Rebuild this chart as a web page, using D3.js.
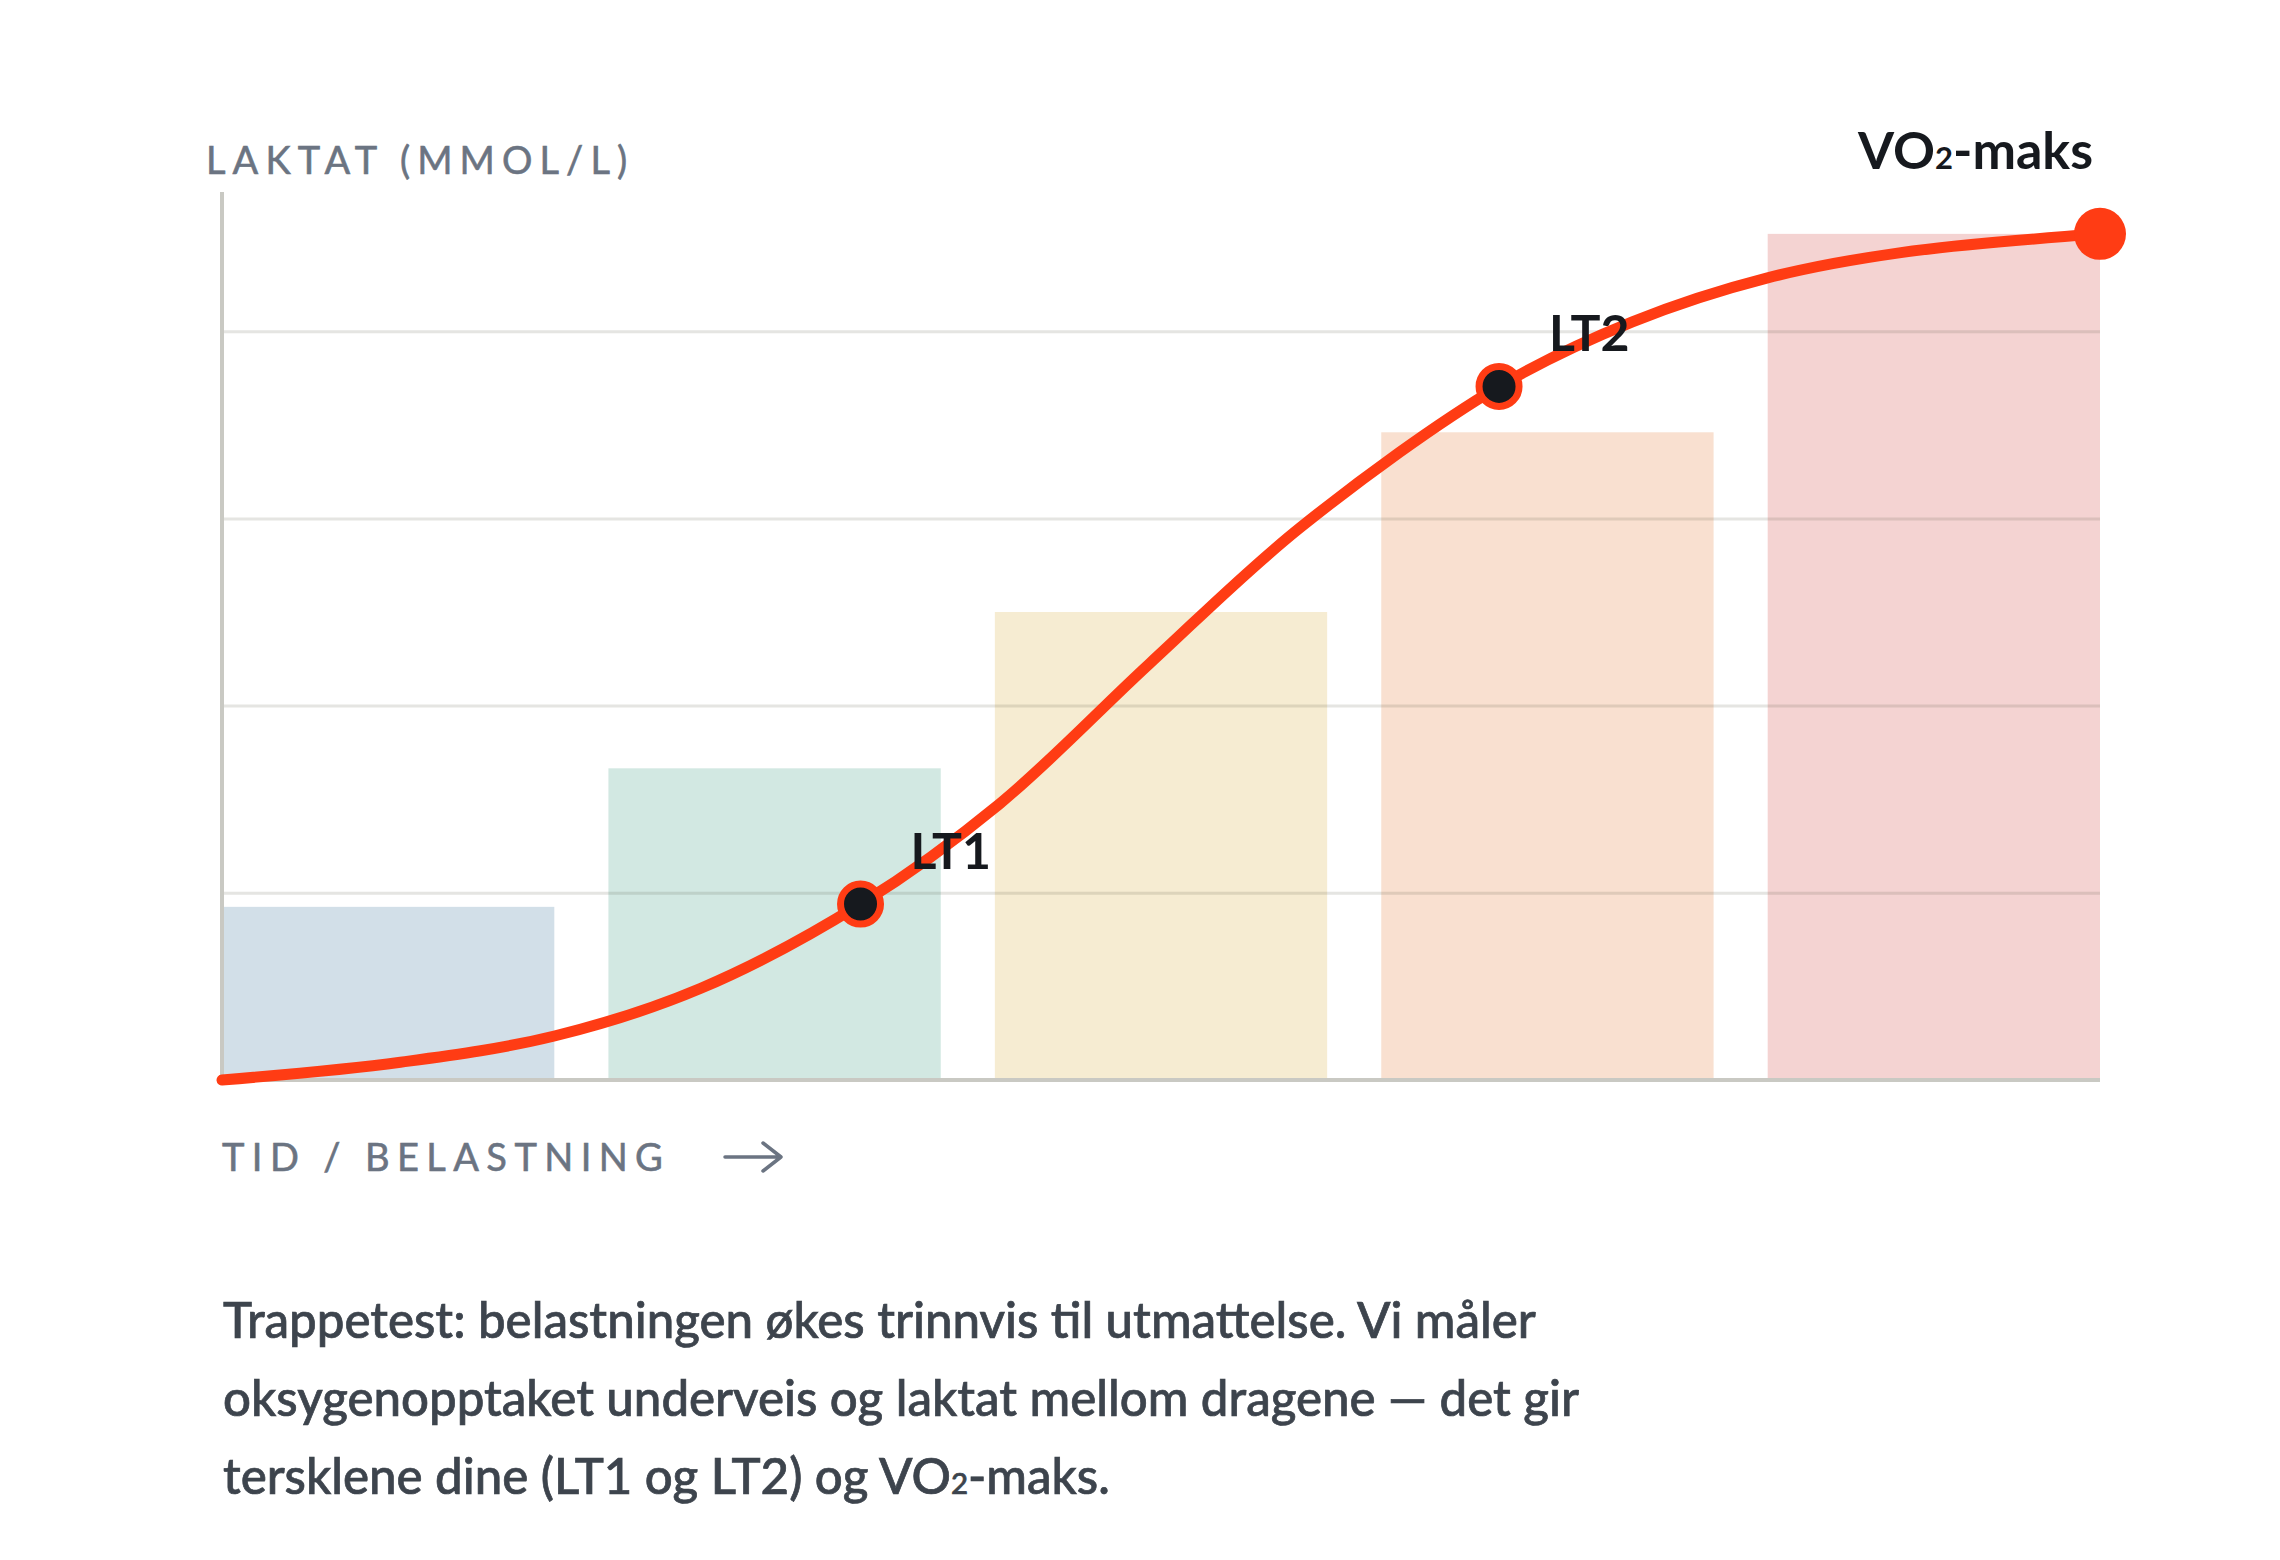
<!DOCTYPE html>
<html>
<head>
<meta charset="utf-8" />
<title>Trappetest</title>
<script src="https://cdn.jsdelivr.net/npm/d3@7"></script>
<style>
  body { margin: 0; background: #fff; }
  svg { display: block; }
  text { font-family: Lato, "Noto Sans", sans-serif; }
</style>
</head>
<body>
<svg id="chart" width="2280" height="1560"></svg>
<script>
// stages of the step test (one bar each) and their lactate level
const stages = ["1", "2", "3", "4", "5"];
const stageLactate = [1.85, 3.33, 5.0, 6.92, 9.04];
const stageColors = ["#d2dfe8", "#d2e8e2", "#f6ecd2", "#f9e0d0", "#f4d3d2"];

// lactate curve, load in % of max vs lactate
const curveLoad    = [0, 9.5, 17.7, 25.5, 34, 41.4, 49.4, 57.4, 68, 75.1, 82.3, 89.4, 100];
const curveLactate = [0, 0.19, 0.47, 0.98, 1.88, 2.95, 4.45, 5.9, 7.41, 8.1, 8.57, 8.84, 9.04];

// threshold markers
const markerNames = ["LT1", "LT2"];
const markerLoad = [34, 68];
const markerLactate = [1.88, 7.41];
const vo2Load = 100, vo2Lactate = 9.04;

const gridTicks = [2, 4, 6, 8];

const yLabel = "LAKTAT (MMOL/L)";
const xLabel = "TID / BELASTNING";
const captionLines = [
  "Trappetest: belastningen økes trinnvis til utmattelse. Vi måler",
  "oksygenopptaket underveis og laktat mellom dragene — det gir",
  "tersklene dine (LT1 og LT2) og VO"
];

const svg = d3.select("#chart");
const plotLeft = 222, plotRight = 2100, plotBottom = 1080, plotTop = 144;
const red = "#ff3c14", ink = "#16191e", muted = "#6b7482";

const x = d3.scaleBand().domain(stages).range([plotLeft, plotRight]).paddingInner(0.14).paddingOuter(0);
const xLoad = d3.scaleLinear().domain([0, 100]).range([plotLeft, plotRight]);
const y = d3.scaleLinear().domain([0, 10]).range([plotBottom, plotTop]);

// bars
svg.append("g")
  .selectAll("rect")
  .data(stages)
  .join("rect")
    .attr("x", d => x(d))
    .attr("width", x.bandwidth())
    .attr("y", (d, i) => y(stageLactate[i]))
    .attr("height", (d, i) => y(0) - y(stageLactate[i]))
    .attr("fill", (d, i) => stageColors[i]);

// grid lines, drawn on top so they show through the bars
const grid = svg.append("g")
  .attr("transform", `translate(${plotLeft},0)`)
  .call(d3.axisLeft(y).tickValues(gridTicks).tickSize(-(plotRight - plotLeft)).tickFormat(""));
grid.select(".domain").remove();
grid.selectAll(".tick line").attr("stroke", "rgba(70,70,50,0.14)").attr("stroke-width", 3);

// axes
svg.append("line")
  .attr("x1", plotLeft).attr("x2", plotLeft).attr("y1", 192).attr("y2", plotBottom + 2)
  .attr("stroke", "#c9c9c3").attr("stroke-width", 4);
svg.append("line")
  .attr("x1", plotLeft).attr("x2", plotRight).attr("y1", plotBottom).attr("y2", plotBottom)
  .attr("stroke", "#c9c9c3").attr("stroke-width", 4);

// lactate curve
const line = d3.line()
  .x((d, i) => xLoad(curveLoad[i]))
  .y((d, i) => y(curveLactate[i]))
  .curve(d3.curveCatmullRom.alpha(0.5));
svg.append("path")
  .attr("d", line(curveLoad))
  .attr("fill", "none")
  .attr("stroke", red)
  .attr("stroke-width", 11)
  .attr("stroke-linecap", "round");

// threshold markers
const mk = svg.append("g").selectAll("g").data(markerNames).join("g");
mk.append("circle")
  .attr("cx", (d, i) => xLoad(markerLoad[i]))
  .attr("cy", (d, i) => y(markerLactate[i]))
  .attr("r", 20)
  .attr("fill", ink)
  .attr("stroke", red)
  .attr("stroke-width", 7);
mk.append("text")
  .attr("x", (d, i) => xLoad(markerLoad[i]) + 50)
  .attr("y", (d, i) => y(markerLactate[i]) - 35)
  .attr("font-size", 50)
  .attr("font-weight", 700)
  .attr("fill", ink)
  .text(d => d);

// VO2max end point
svg.append("circle")
  .attr("cx", xLoad(vo2Load)).attr("cy", y(vo2Lactate))
  .attr("r", 26).attr("fill", red);
const vo2 = svg.append("text")
  .attr("x", xLoad(vo2Load) - 7)
  .attr("y", 169)
  .attr("text-anchor", "end")
  .attr("font-size", 52)
  .attr("font-weight", 700)
  .attr("fill", ink);
vo2.append("tspan").text("VO");
vo2.append("tspan").attr("font-size", 31).text("2");
vo2.append("tspan").text("-maks");

// axis titles
svg.append("text")
  .attr("x", 206).attr("y", 174)
  .attr("font-size", 38)
  .attr("letter-spacing", "7.1px")
  .attr("fill", muted)
  .attr("stroke", muted).attr("stroke-width", 0.6)
  .text(yLabel);
svg.append("text")
  .attr("x", plotLeft).attr("y", 1171)
  .attr("font-size", 38)
  .attr("letter-spacing", "7.4px")
  .attr("fill", muted)
  .attr("stroke", muted).attr("stroke-width", 0.6)
  .text(xLabel);
svg.append("path")
  .attr("d", "M725,1157 H781 M763,1143 L781,1157 L763,1171")
  .attr("fill", "none")
  .attr("stroke", muted)
  .attr("stroke-width", 3.5)
  .attr("stroke-linecap", "round")
  .attr("stroke-linejoin", "round");

// caption
const cap = svg.append("g").attr("fill", "#3d444d")
  .attr("stroke", "#3d444d").attr("stroke-width", 0.7);
const baselines = [1338, 1416, 1494];
captionLines.forEach((t, i) => {
  const tx = cap.append("text")
    .attr("x", 223).attr("y", baselines[i])
    .attr("font-size", 46)
    .attr("font-weight", 500);
  tx.append("tspan").text(t);
  if (i === 2) {
    tx.append("tspan").attr("class", "sub").text("2");
    tx.append("tspan").text("-maks.");
  }
});
// fit first line to the reference width
const w0 = cap.select("text").node().getComputedTextLength();
const fs = 46 * 1313 / w0;
cap.selectAll("text").attr("font-size", fs);
cap.selectAll("tspan.sub").attr("font-size", fs * 0.6);
</script>
</body>
</html>
